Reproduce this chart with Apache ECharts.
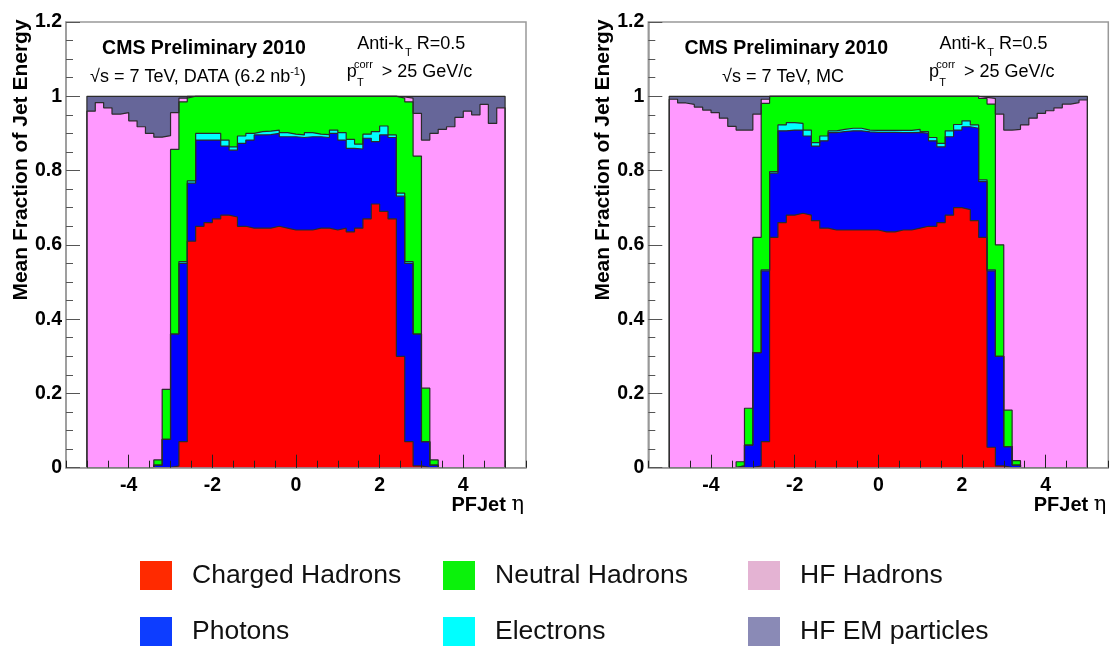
<!DOCTYPE html>
<html><head><meta charset="utf-8">
<script src="https://cdn.jsdelivr.net/npm/echarts@6/dist/echarts.min.js"></script>
<style>html,body{margin:0;padding:0;background:#fff}#c{width:1111px;height:646px}</style>
</head><body><div id="c"></div>
<script>
// ---- bin edges (eta) ----
const etaEdges = [-5,-4.8,-4.6,-4.4,-4.2,-4,-3.8,-3.6,-3.4,-3.2,-3,-2.8,-2.6,-2.4,-2.2,-2,-1.8,-1.6,-1.4,-1.2,-1,-0.8,-0.6,-0.4,-0.2,0,0.2,0.4,0.6,0.8,1,1.2,1.4,1.6,1.8,2,2.2,2.4,2.6,2.8,3,3.2,3.4,3.6,3.8,4,4.2,4.4,4.6,4.8,5];

// ---- DATA panel: mean energy fractions per eta bin ----
const dataCharged = [0,0,0,0,0,0,0,0,0,0, 0.005,0.07,0.61,0.65,0.66,0.67,0.68,0.675,0.65,0.645, 0.645,0.645,0.65,0.645,0.64,0.64,0.64,0.645,0.645,0.64, 0.645,0.635,0.645,0.67,0.71,0.69,0.67,0.30,0.07,0.005, 0,0,0,0,0,0,0,0,0,0];
const dataPhotons = [0,0,0,0,0,0,0,0,0.007,0.076, 0.355,0.48,0.156,0.232,0.222,0.212,0.186,0.18,0.223,0.237, 0.251,0.252,0.25,0.246,0.251,0.249,0.251,0.246,0.244,0.26, 0.237,0.225,0.213,0.217,0.168,0.206,0.219,0.431,0.48,0.355, 0.07,0.007,0,0,0,0,0,0,0,0];
const dataElectrons = [0,0,0,0,0,0,0,0,0,0, 0,0.005,0.006,0.018,0.018,0.018,0.016,0.009,0.020,0.018, 0.009,0.009,0.009,0.011,0.007,0.007,0.011,0.007,0.008,0.009, 0.020,0.024,0.013,0.011,0.027,0.024,0.007,0.008,0.005,0, 0,0,0,0,0,0,0,0,0,0];
const dataNeutral = [0,0,0,0,0,0,0,0,0.014,0.135, 0.497,0.43,0.228,0.100,0.100,0.100,0.118,0.136,0.107,0.100, 0.095,0.094,0.091,0.098,0.102,0.104,0.098,0.102,0.103,0.091, 0.098,0.116,0.129,0.102,0.095,0.080,0.104,0.256,0.43,0.479, 0.144,0.014,0,0,0,0,0,0,0,0];
const dataHFHadrons = [0.960,0.983,0.969,0.952,0.956,0.934,0.918,0.900,0.869,0.683, 0.099,0.010,0,0,0,0,0,0,0,0, 0,0,0,0,0,0,0,0,0,0, 0,0,0,0,0,0,0,0.003,0.010,0.115, 0.668,0.879,0.911,0.918,0.943,0.960,0.950,0.978,0.927,0.969];
const dataHFEM = [0.040,0.017,0.031,0.048,0.044,0.066,0.082,0.100,0.110,0.106, 0.044,0.005,0,0,0,0,0,0,0,0, 0,0,0,0,0,0,0,0,0,0, 0,0,0,0,0,0,0,0.002,0.005,0.046, 0.118,0.100,0.089,0.082,0.057,0.040,0.050,0.022,0.073,0.031];

// ---- MC panel ----
const mcCharged = [0,0,0,0,0,0,0,0,0,0, 0.005,0.07,0.62,0.66,0.68,0.685,0.68,0.665,0.645,0.64, 0.64,0.64,0.64,0.64,0.64,0.635,0.635,0.64,0.64,0.645, 0.65,0.65,0.66,0.68,0.70,0.695,0.665,0.62,0.055,0.005, 0,0,0,0,0,0,0,0,0,0];
const mcPhotons = [0,0,0,0,0,0,0,0,0.005,0.061, 0.305,0.46,0.173,0.247,0.229,0.224,0.213,0.201,0.235,0.262, 0.265,0.267,0.267,0.264,0.263,0.268,0.268,0.262,0.262,0.258, 0.25,0.23,0.204,0.211,0.209,0.223,0.249,0.15,0.475,0.295, 0.057,0.007,0,0,0,0,0,0,0,0];
const mcElectrons = [0,0,0,0,0,0,0,0,0,0, 0,0.003,0.004,0.016,0.020,0.018,0.016,0.009,0.013,0.005, 0.006,0.007,0.007,0.005,0.005,0.005,0.005,0.006,0.006,0.008, 0.005,0.009,0.009,0.016,0.015,0.016,0.009,0.005,0.003,0, 0,0,0,0,0,0,0,0,0,0];
const mcNeutral = [0,0,0,0,0,0,0,0,0.011,0.099, 0.31,0.448,0.203,0.077,0.071,0.073,0.091,0.125,0.107,0.093, 0.089,0.086,0.086,0.091,0.092,0.092,0.092,0.092,0.092,0.089, 0.095,0.111,0.127,0.093,0.076,0.066,0.077,0.219,0.446,0.30, 0.098,0.012,0,0,0,0,0,0,0,0];
const mcHFHadrons = [0.992,0.982,0.978,0.971,0.963,0.956,0.941,0.919,0.893,0.749, 0.332,0.011,0,0,0,0,0,0,0,0, 0,0,0,0,0,0,0,0,0,0, 0,0,0,0,0,0,0,0.003,0.015,0.352, 0.754,0.892,0.923,0.941,0.954,0.961,0.969,0.979,0.983,0.990];
const mcHFEM = [0.008,0.018,0.022,0.029,0.037,0.044,0.059,0.081,0.091,0.091, 0.048,0.008,0,0,0,0,0,0,0,0, 0,0,0,0,0,0,0,0,0,0, 0,0,0,0,0,0,0,0.003,0.006,0.048, 0.091,0.089,0.077,0.059,0.046,0.039,0.031,0.021,0.017,0.010];

// ---- tick labels ----
const xTickLabels = [-4,-2,0,2,4];
const xMinorTicks = [-5.5,-5,-4.5,-4,-3.5,-3,-2.5,-2,-1.5,-1,-0.5,0,0.5,1,1.5,2,2.5,3,3.5,4,4.5,5,5.5];

// ---- styles ----
const FONT = '"Liberation Sans", Arial, Helvetica, sans-serif';
const compNames = ['Charged Hadrons','Photons','Electrons','Neutral Hadrons','HF Hadrons','HF EM particles'];
const compColors = ['#ff0000','#0000ff','#00ffff','#00ff00','#ff99ff','#666699'];
const legendColors = {'Charged Hadrons':'#ff2a00','Neutral Hadrons':'#0bf20b','HF Hadrons':'#e4b3d3','Photons':'#0d3dff','Electrons':'#00ffff','HF EM particles':'#8a8ab6'};

const panels = [
  {comps:[dataCharged,dataPhotons,dataElectrons,dataNeutral,dataHFHadrons,dataHFEM], left:66},
  {comps:[mcCharged,mcPhotons,mcElectrons,mcNeutral,mcHFHadrons,mcHFEM], left:648.3}
];
const GRID_TOP = 22, GRID_H = 445.7, GRID_W = 460;

const grids = [], xAxes = [], yAxes = [], series = [];
panels.forEach((p, pi) => {
  grids.push({left:p.left, top:GRID_TOP, width:GRID_W, height:GRID_H, show:true, borderColor:'#999', borderWidth:1.5, backgroundColor:'#fff', containLabel:false, outerBoundsMode:'none'});
  xAxes.push({gridIndex:pi, type:'value', min:-5.5, max:5.5, position:'bottom', z:6,
    axisLine:{show:true, onZero:false, lineStyle:{color:'#999', width:1.5}},
    axisTick:{show:true, inside:true, length:7, customValues:xMinorTicks, lineStyle:{color:'#222', width:1}},
    axisLabel:{show:false}, splitLine:{show:false}});
  xAxes.push({gridIndex:pi, type:'value', min:-5.5, max:5.5, position:'bottom', z:6,
    axisLine:{show:false, onZero:false},
    axisTick:{show:true, inside:true, length:13, customValues:xTickLabels, lineStyle:{color:'#222', width:1}},
    axisLabel:{show:true, customValues:xTickLabels, margin:8, fontSize:19.5, fontWeight:'bold', fontFamily:FONT, color:'#000'},
    splitLine:{show:false}});
  yAxes.push({gridIndex:pi, type:'value', min:0, max:1.2, interval:0.2, z:6, position:'left',
    axisLine:{show:true, onZero:false, lineStyle:{color:'#999', width:1.5}},
    axisTick:{show:true, inside:true, length:14, lineStyle:{color:'#555', width:1}},
    minorTick:{show:true, splitNumber:4, length:7, lineStyle:{color:'#555', width:1}},
    axisLabel:{margin:4, fontSize:19.5, fontWeight:'bold', fontFamily:FONT, color:'#000'},
    splitLine:{show:false}});
  const cum = [];
  let run = p.comps[0].map(() => 0);
  p.comps.forEach(c => { run = run.map((v, i) => v + c[i]); cum.push(run.slice()); });
  for (let k = p.comps.length - 1; k >= 0; k--) {
    const vals = cum[k];
    const pts = [[etaEdges[0], 0]];
    vals.forEach((v, i) => pts.push([etaEdges[i], v]));
    pts.push([etaEdges[etaEdges.length - 1], vals[vals.length - 1]]);
    pts.push([etaEdges[etaEdges.length - 1], 0]);
    series.push({type:'line', name:compNames[k], xAxisIndex:pi*2, yAxisIndex:pi, data:pts, step:'end',
      showSymbol:false, symbol:'none', silent:true, animation:false, z:2,
      itemStyle:{color:compColors[k]},
      lineStyle:{color:'#2b2b2b', width:1.2},
      areaStyle:{color:compColors[k], opacity:1}});
  }
});

const legendLayout = [
  {name:'Charged Hadrons', left:140, top:561},
  {name:'Neutral Hadrons', left:443, top:561},
  {name:'HF Hadrons', left:748, top:561},
  {name:'Photons', left:140, top:617},
  {name:'Electrons', left:443, top:617},
  {name:'HF EM particles', left:748, top:617}
];
const legends = legendLayout.map(l => ({
  left:l.left, top:l.top, padding:0, itemWidth:32, itemHeight:29, itemGap:0, icon:'rect', selectedMode:false,
  data:[{name:l.name, icon:'rect', itemStyle:{color:legendColors[l.name], borderWidth:0, opacity:1}}],
  textStyle:{fontSize:26.5, fontFamily:FONT, color:'#111', padding:[0,0,0,15]}
}));

function txt(x, y, text, size) {
  return {type:'text', x:x, y:y, z:100, silent:true,
    style:{text:text, fontSize:size, fontFamily:FONT, fill:'#000', align:'left', verticalAlign:'middle'}};
}
const graphics = [];
[{dx:0, data:true}, {dx:582.3, data:false}].forEach(pp => {
  const dx = pp.dx;
  graphics.push({type:'text', x:204 + dx, y:48.3, z:100, silent:true,
    style:{text:'CMS Preliminary 2010', fontSize:19.5, fontWeight:'bold', fontFamily:FONT, fill:'#000', align:'center', verticalAlign:'middle'}});
  graphics.push({type:'text', x: pp.data ? 198 : 783, y:77.5, z:100, silent:true, style:{
    text: pp.data ? '{n|√s = 7 TeV, DATA (6.2 nb}{s|-1}{n|)}' : '{n|√s = 7 TeV, MC}',
    rich:{n:{fontSize:18, fontFamily:FONT, lineHeight:22, fill:'#000'}, s:{fontSize:11, fontFamily:FONT, lineHeight:4, verticalAlign:'top', fill:'#000'}},
    fontSize:18, fontFamily:FONT, fill:'#000', align:'center', verticalAlign:'middle'}});
  graphics.push(txt(357.3 + dx, 43.7, 'Anti-k', 18));
  graphics.push(txt(405 + dx, 52.5, 'T', 11));
  graphics.push(txt(416.7 + dx, 43.7, 'R=0.5', 18));
  graphics.push(txt(346.7 + dx, 71.8, 'p', 18));
  graphics.push(txt(354 + dx, 65, 'corr', 11));
  graphics.push(txt(357 + dx, 83, 'T', 11));
  graphics.push(txt(381.7 + dx, 71.8, '> 25 GeV/c', 18));
  graphics.push({type:'text', x:21 + dx, y:160, rotation:Math.PI/2, z:100, silent:true,
    style:{text:'Mean Fraction of Jet Energy', fontSize:21, fontWeight:'bold', fontFamily:FONT, fill:'#000', align:'center', verticalAlign:'middle'}});
  graphics.push({type:'text', x:524 + dx, y:505, z:100, silent:true,
    style:{text:'{b|PFJet }{g|η}', rich:{b:{fontSize:20, fontWeight:'bold', fontFamily:FONT, fill:'#000'}, g:{fontSize:21, fontFamily:'"DejaVu Serif", serif', fill:'#000'}},
      fontSize:20, fontFamily:FONT, align:'right', verticalAlign:'middle'}});
});

const chart = echarts.init(document.getElementById('c'), null, {renderer:'canvas'});
chart.setOption({
  animation:false,
  backgroundColor:'#fff',
  grid:grids, xAxis:xAxes, yAxis:yAxes, series:series,
  legend:legends,
  graphic:{elements:graphics}
});
</script>
</body></html>
